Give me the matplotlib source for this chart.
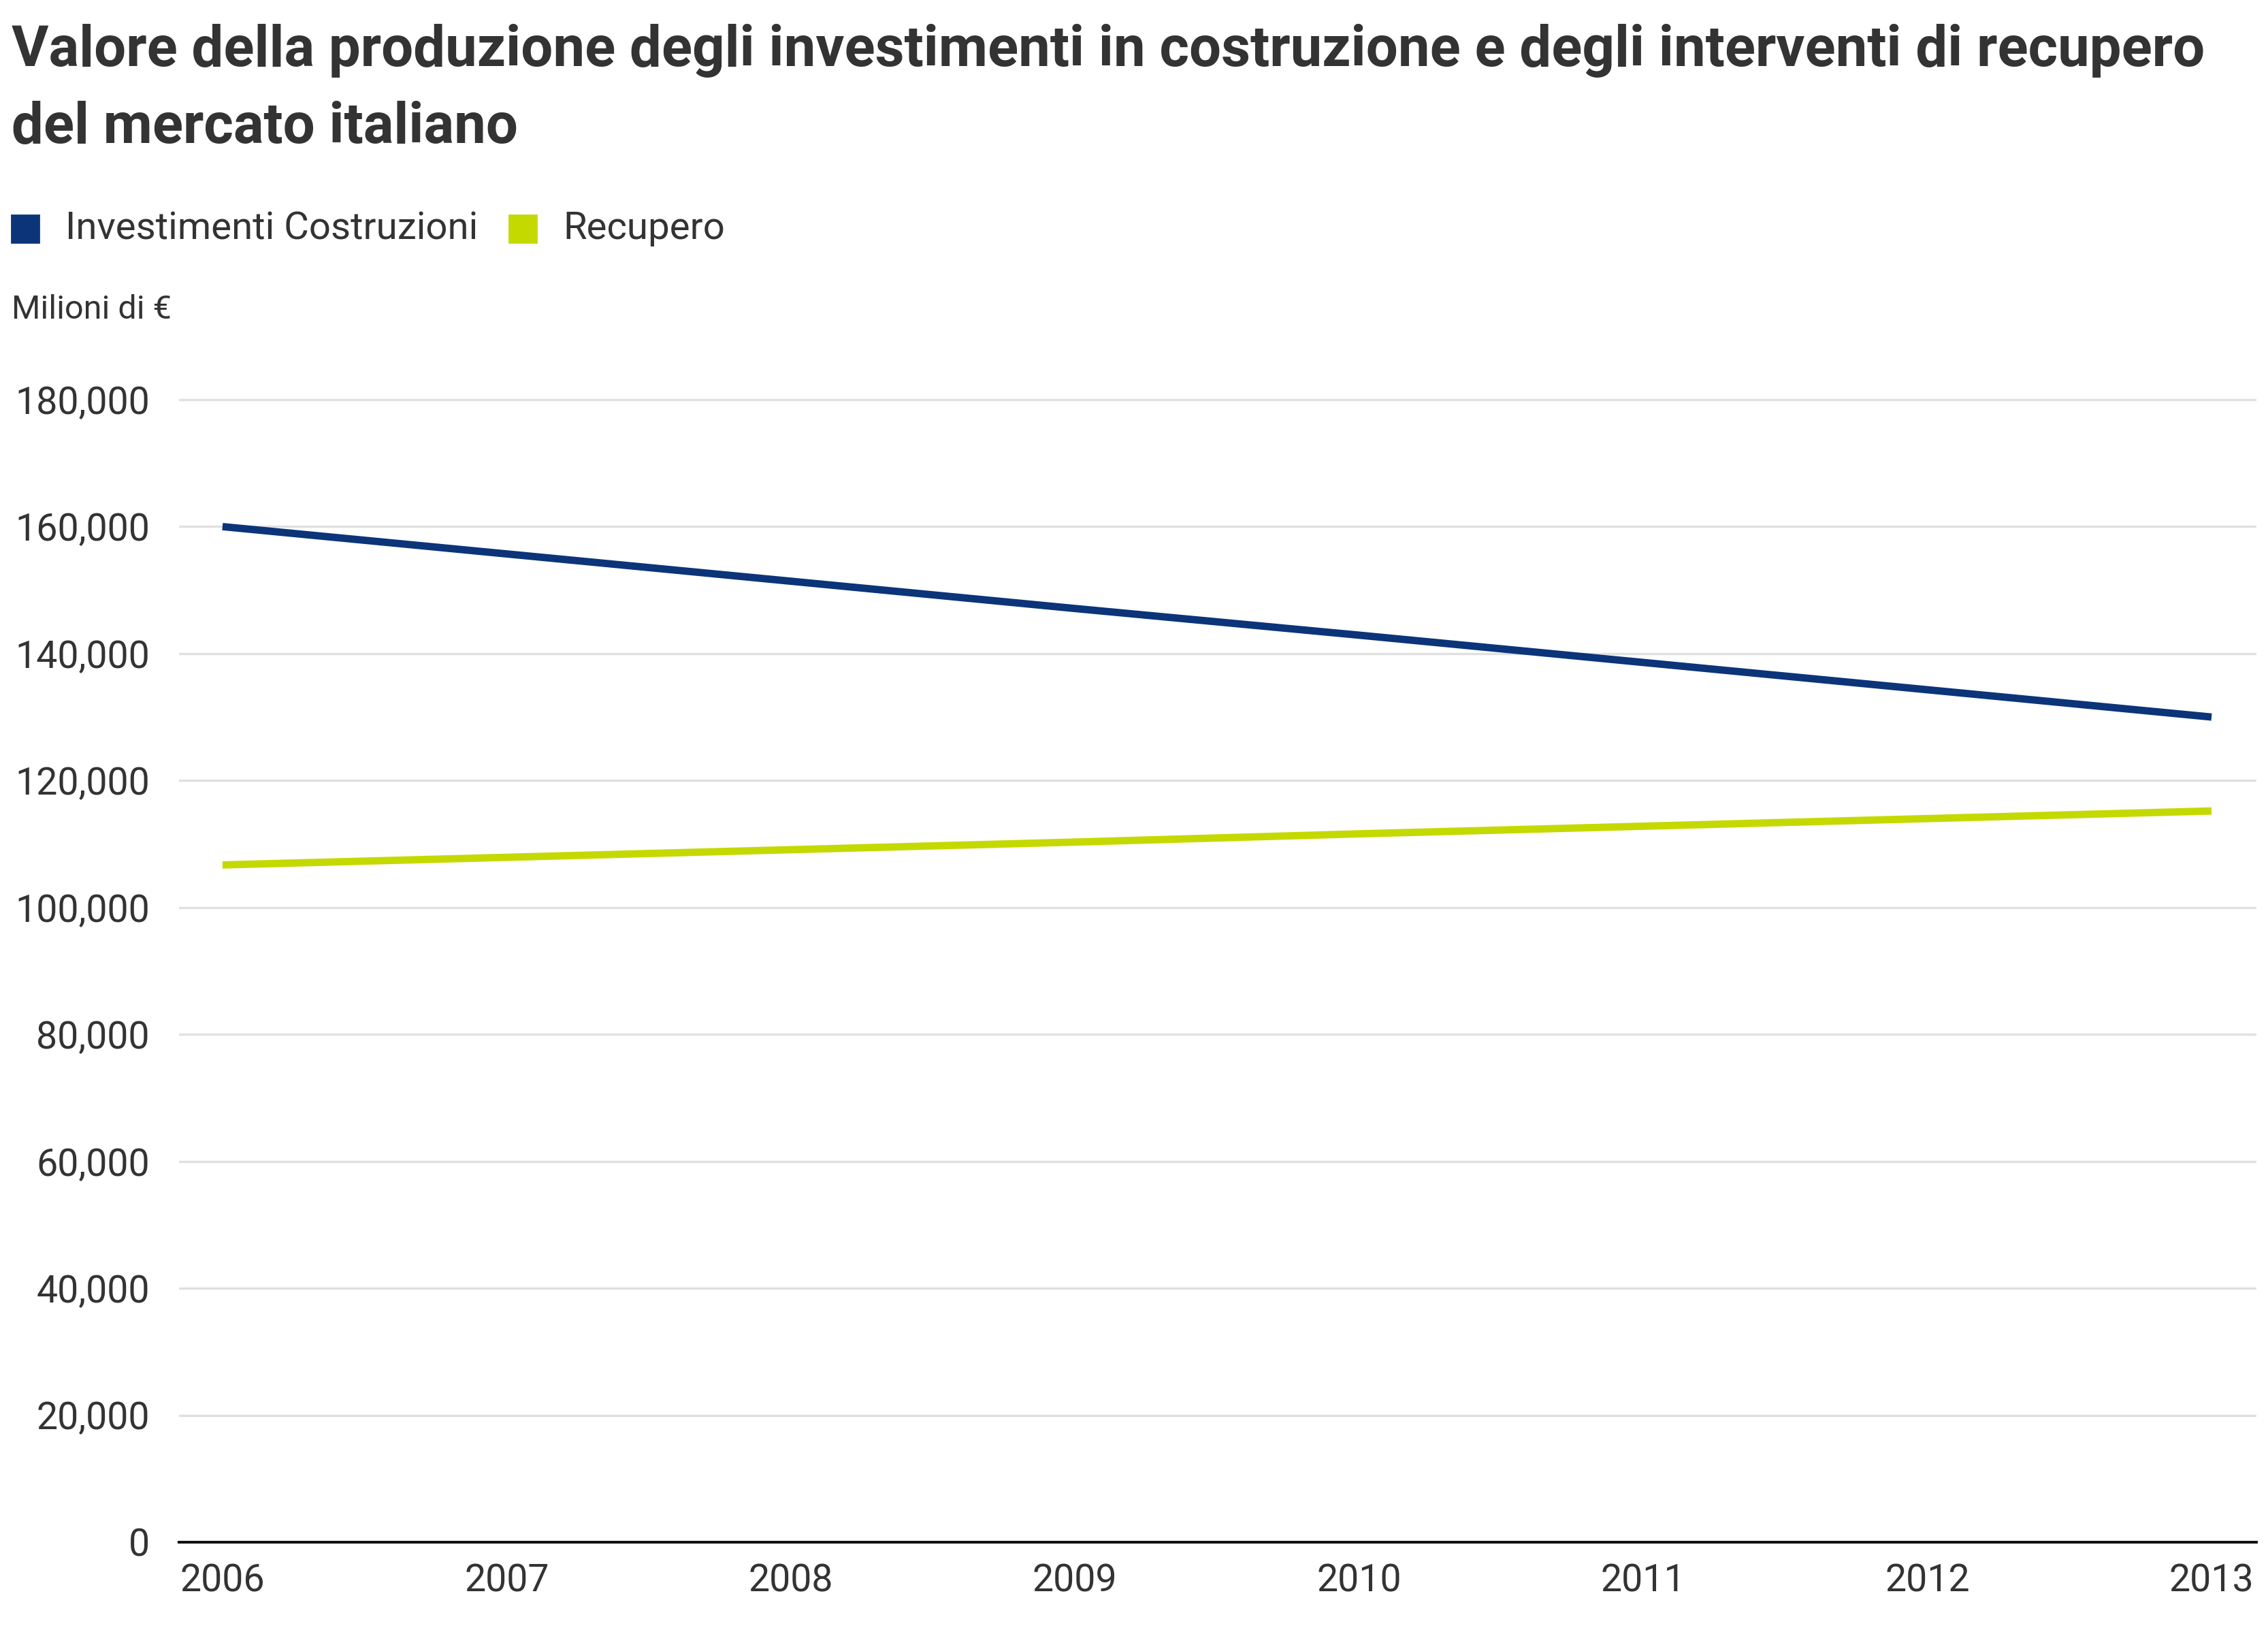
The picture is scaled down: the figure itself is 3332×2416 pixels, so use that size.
import matplotlib.pyplot as plt
from matplotlib.patches import Rectangle
from matplotlib.ticker import FuncFormatter

# dati (milioni di euro)
years = [2006, 2007, 2008, 2009, 2010, 2011, 2012, 2013]
investimenti = [160000, 155700, 151400, 147100, 142900, 138600, 134300, 130000]
recupero = [106700, 107900, 109100, 110300, 111600, 112800, 114000, 115200]
series_names = ['Investimenti Costruzioni', 'Recupero']
colors = ['#0b3479', '#c4d900']
y_ticks = [0, 20000, 40000, 60000, 80000, 100000, 120000, 140000, 160000, 180000]

W, H = 3332, 2416
DPI = 200
TEXT = '#333333'

plt.rcParams['font.family'] = ['Roboto', 'DejaVu Sans']

fig = plt.figure(figsize=(W / DPI, H / DPI), dpi=DPI)

# posizione assi in pixel
left_px, right_px = 263, 3315
zero_px, top_px = 2265, 587
ymax = 182000
top_axes_px = zero_px - (zero_px - top_px) * ymax / 180000
ax = fig.add_axes([left_px / W, 1 - zero_px / H,
                   (right_px - left_px) / W, (zero_px - top_axes_px) / H])

ax.plot(years, investimenti, color=colors[0], lw=3.9, solid_capstyle='butt', zorder=3)
ax.plot(years, recupero, color=colors[1], lw=3.9, solid_capstyle='butt', zorder=3)

ax.set_xlim(2005.847, 2013.158)
ax.set_ylim(0, ymax)
ax.set_yticks(y_ticks)
ax.set_xticks(years)
ax.yaxis.set_major_formatter(FuncFormatter(lambda v, p: f'{int(v):,}'))
ax.grid(axis='y', color='#e0e0e0', lw=1.2, zorder=0)
ax.set_axisbelow(True)

for s in ['top', 'right', 'left']:
    ax.spines[s].set_visible(False)
ax.spines['bottom'].set_color('#111111')
ax.spines['bottom'].set_linewidth(1.45)
ax.spines['bottom'].set_zorder(4)

ax.tick_params(axis='y', length=0, pad=15.5, labelsize=20, labelcolor=TEXT)
ax.tick_params(axis='x', length=0, pad=11, labelsize=20, labelcolor=TEXT)

# titolo
fig.text(17 / W, 1 - 74 / H, 'Valore della produzione degli investimenti in costruzione e degli interventi di recupero',
         fontsize=30, fontweight='bold', color=TEXT, va='center', ha='left')
fig.text(17 / W, 1 - 187 / H, 'del mercato italiano',
         fontsize=30, fontweight='bold', color=TEXT, va='center', ha='left')

# legenda
leg_y = 336
sq = 40
for name, c, sx, tx in zip(series_names, colors, [17, 748], [96, 827]):
    fig.patches.append(Rectangle((sx / W, 1 - (leg_y + sq / 2) / H), sq / W, sq / H,
                                 transform=fig.transFigure, color=c))
    fig.text(tx / W, 1 - leg_y / H, name, fontsize=20.3, color=TEXT, va='center', ha='left')

fig.text(17 / W, 1 - 455 / H, 'Milioni di €', fontsize=17.5, color=TEXT, va='center', ha='left')

fig.savefig('out.png', dpi=DPI, facecolor='white')
